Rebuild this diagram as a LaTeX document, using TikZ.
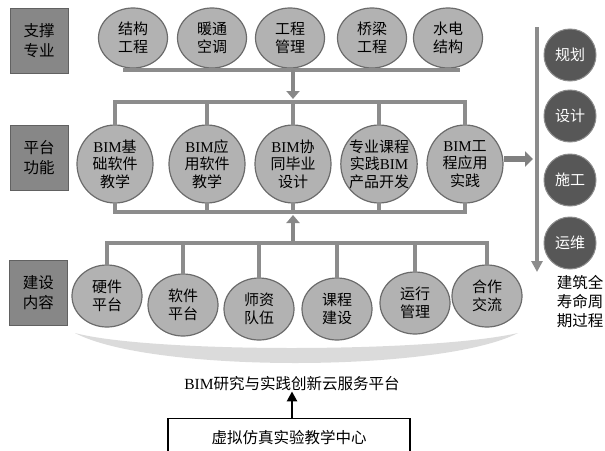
\documentclass[tikz,border=0pt]{standalone}
\usepackage{fontspec}
\setmainfont{Liberation Serif}
\newfontfamily\cjk{Noto Sans CJK SC}
\usetikzlibrary{arrows.meta,positioning,shapes.geometric}
\newcommand\bim{{\rmfamily BIM}}

\tikzset{every picture/.append style={x=1pt,y=-1pt}}
\tikzset{
  tag/.style={draw=black!62,fill=black!47,line width=1pt,minimum width=58,minimum height=65,
    font=\cjk\fontsize{15.5}{20}\selectfont,align=center,inner sep=0pt},
  major/.style={ellipse,draw=black!58,fill=black!30,line width=1.2pt,
    font=\cjk\fontsize{15}{17.5}\selectfont,align=center,inner xsep=-3pt,inner ysep=1pt},
  rowa/.style={major,minimum width=69,minimum height=60},
  rowb/.style={major,minimum width=76,minimum height=78},
  rowc/.style={major,minimum width=70,minimum height=62},
  stage/.style={circle,draw=black!45,fill=black!66,line width=1pt,text=white,minimum size=52,
    font=\cjk\fontsize{15}{18}\selectfont,inner sep=0pt},
  bar/.style={draw=black!45,line width=4pt,line cap=rect},
  feed/.style={draw=black!47,line width=4.5pt,-{Triangle[width=13pt,length=8pt]}},
  push/.style={draw=black!50,line width=6pt,-{Triangle[width=15pt,length=8pt]}},
  life/.style={draw=black!45,line width=3.5pt,-{Triangle[width=11pt,length=11pt]}},
  plain/.style={font=\cjk\fontsize{15.5}{19}\selectfont,align=center,inner sep=0pt}
}

\begin{document}
\begin{tikzpicture}
  \useasboundingbox (0,0) rectangle (605,450);

  \node[tag] (sup) at (39,40.5){支撑\\专业};
  \node[tag] (fun) at (39,157.5){平台\\功能};
  \node[tag] (con) at (38.5,292.5){建设\\内容};

  \node[rowa] (s1) at (133,38){结构\\工程};
  \node[rowa] (s2) at (212,38){暖通\\空调};
  \node[rowa] (s3) at (290,38){工程\\管理};
  \node[rowa] (s4) at (372,38){桥梁\\工程};
  \node[rowa] (s5) at (448,38){水电\\结构};

  \node[rowb] (p1) at (115,164){\bim 基\\础软件\\教学};
  \node[rowb] (p2) at (207,164){\bim 应\\用软件\\教学};
  \node[rowb] (p3) at (293,164){\bim 协\\同毕业\\设计};
  \node[rowb] (p4) at (379,164){专业课程\\实践\bim\\产品开发};
  \node[rowb] (p5) at (465,164){\bim 工\\程应用\\实践};

  \node[rowc] (c1) at (107,296){硬件\\平台};
  \node[rowc] (c2) at (183,305){软件\\平台};
  \node[rowc] (c3) at (259,309){师资\\队伍};
  \node[rowc] (c4) at (337,309){课程\\建设};
  \node[rowc] (c5) at (415,303){运行\\管理};
  \node[rowc] (c6) at (487,296){合作\\交流};

  \node[stage] (plan) at (570,55){规划};
  \node[stage] (design) at (570,116){设计};
  \node[stage] (build) at (570,180){施工};
  \node[stage] (run) at (570,243){运维};
  \node[plain] (cycle) at (580,302){建筑全\\寿命周\\期过程};

  \coordinate (supL) at (125,70);
  \coordinate (supR) at (458,70);
  \coordinate (supM) at (293,70);
  \coordinate (funin) at (293,99);
  \coordinate (funtop) at (0,102);
  \coordinate (funbot) at (0,212);
  \coordinate (funout) at (293,215);
  \coordinate (conbar) at (0,243);
  \coordinate (conM) at (293,243);
  \coordinate (lifetop) at (537,27);
  \coordinate (lifeend) at (537,272);
  \coordinate (tolife) at (533,159);

  \draw[bar] (supL) -- (supR);
  \draw[feed] (supM) -- (funin);

  \draw[bar] (p1.north |- funtop) -- (p5.north |- funtop);
  \draw[bar] (p1.north) -- (p1.north |- funtop);
  \draw[bar] (p2.north) -- (p2.north |- funtop);
  \draw[bar] (p3.north) -- (p3.north |- funtop);
  \draw[bar] (p4.north) -- (p4.north |- funtop);
  \draw[bar] (p5.north) -- (p5.north |- funtop);
  \draw[bar] (p1.south |- funbot) -- (p5.south |- funbot);
  \draw[bar] (p1.south) -- (p1.south |- funbot);
  \draw[bar] (p2.south) -- (p2.south |- funbot);
  \draw[bar] (p3.south) -- (p3.south |- funbot);
  \draw[bar] (p4.south) -- (p4.south |- funbot);
  \draw[bar] (p5.south) -- (p5.south |- funbot);

  \draw[feed] (conM) -- (funout);
  \draw[bar] (c1.north |- conbar) -- (c6.north |- conbar);
  \draw[bar] (c1.north) -- (c1.north |- conbar);
  \draw[bar] (c2.north) -- (c2.north |- conbar);
  \draw[bar] (c3.north) -- (c3.north |- conbar);
  \draw[bar] (c4.north) -- (c4.north |- conbar);
  \draw[bar] (c5.north) -- (c5.north |- conbar);
  \draw[bar] (c6.north) -- (c6.north |- conbar);

  \draw[push] ([yshift=5pt]p5.east) -- (tolife);
  \draw[life] (lifetop) -- (lifeend);

  \fill[black!14] (75,333) .. controls (150,353) and (430,353) .. (518,333)
    .. controls (440,373) and (150,373) .. (75,333) -- cycle;

  \node[plain,font=\cjk\fontsize{15.5}{19}\selectfont] (cloud) at (292,384){\bim 研究与实践创新云服务平台};
  \node[draw,line width=1.3pt,minimum width=242,minimum height=40,anchor=north,plain] (centre) at (289,418){};
  \node[plain] (centretext) at (289,438){虚拟仿真实验教学中心};
  \draw[line width=2.6pt,-{Triangle[width=10pt,length=10pt]}] (cloud.south |- centre.north) -- (cloud.south);
\end{tikzpicture}
\end{document}
